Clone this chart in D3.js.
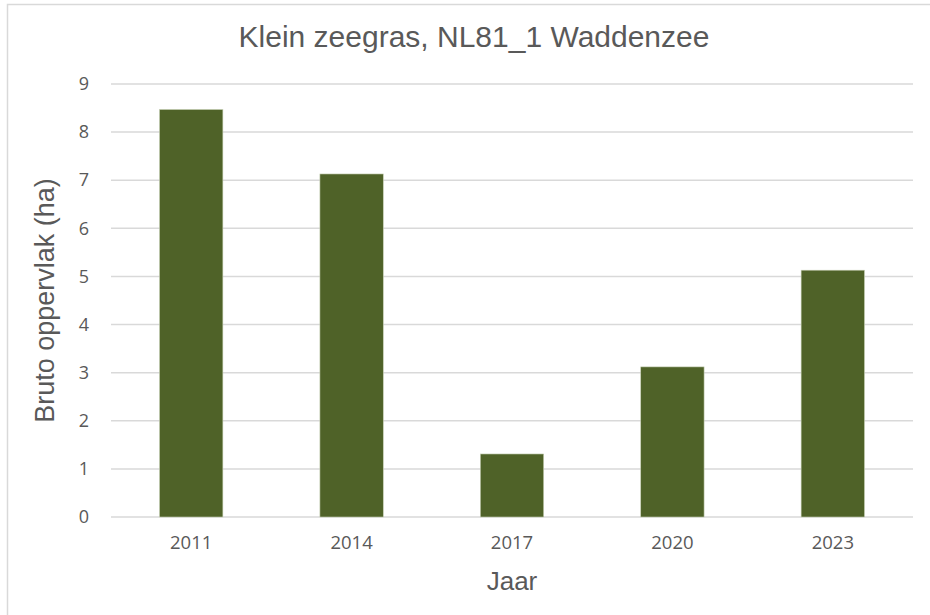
<!DOCTYPE html>
<html>
<head>
<meta charset="utf-8">
<script src="https://cdn.jsdelivr.net/npm/d3@7"></script>
<style>
  body { margin: 0; background: #fff; }
  svg text { fill: #595959; }
</style>
</head>
<body>
<div id="chart"></div>
<script>
var years = ["2011", "2014", "2017", "2020", "2023"];
var area = [8.47, 7.13, 1.31, 3.12, 5.13];
var yTicks = [0, 1, 2, 3, 4, 5, 6, 7, 8, 9];

var width = 930, height = 615;
var margin = {top: 84, right: 17, bottom: 98, left: 111};

var svg = d3.select("#chart").append("svg")
    .attr("width", width)
    .attr("height", height);

// chart border (runs off the right and bottom edge)
svg.append("rect")
    .attr("x", 7.5).attr("y", 4.5)
    .attr("width", 940).attr("height", 640)
    .attr("fill", "none")
    .attr("stroke", "#d9d9d9")
    .attr("stroke-width", 1.5);

var x = d3.scaleBand()
    .domain(years)
    .range([margin.left, width - margin.right]);

var y = d3.scaleLinear()
    .domain([0, 9])
    .range([height - margin.bottom, margin.top]);

// gridlines
svg.append("g")
    .selectAll("line")
    .data(yTicks)
    .enter().append("line")
    .attr("x1", margin.left)
    .attr("x2", width - margin.right)
    .attr("y1", function(d) { return y(d); })
    .attr("y2", function(d) { return y(d); })
    .attr("stroke", "#d9d9d9")
    .attr("stroke-width", 1.5);

// y axis labels
var yAxis = svg.append("g")
    .attr("transform", "translate(" + (margin.left - 22) + ",0)")
    .call(d3.axisLeft(y).tickValues(yTicks).tickSize(0).tickPadding(0));
yAxis.select(".domain").remove();
yAxis.selectAll("text")
    .attr("font-family", "'Open Sans', sans-serif")
    .attr("font-size", 18)
    .style("fill", "#595959");

// x axis labels
var xAxis = svg.append("g")
    .attr("transform", "translate(0," + (height - margin.bottom) + ")")
    .call(d3.axisBottom(x).tickSize(0).tickPadding(19));
xAxis.select(".domain").remove();
xAxis.selectAll("text")
    .attr("font-family", "'Open Sans', sans-serif")
    .attr("font-size", 18.5)
    .style("fill", "#595959");

// bars
var barW = x.bandwidth() * 0.395;
svg.append("g")
    .selectAll("rect")
    .data(area)
    .enter().append("rect")
    .attr("x", function(d, i) { return x(years[i]) + x.bandwidth() / 2 - barW / 2; })
    .attr("y", function(d) { return y(d); })
    .attr("width", barW)
    .attr("height", function(d) { return y(0) - y(d); })
    .attr("fill", "#4f6228")
    .attr("stroke", "#c6cfb4")
    .attr("stroke-width", 0.6);

// title
svg.append("text")
    .attr("x", 474).attr("y", 47)
    .attr("text-anchor", "middle")
    .attr("font-family", "'Liberation Sans', Arial, sans-serif")
    .attr("font-size", 30)
    .text("Klein zeegras, NL81_1 Waddenzee");

// axis titles
svg.append("text")
    .attr("x", (margin.left + width - margin.right) / 2)
    .attr("y", 590)
    .attr("text-anchor", "middle")
    .attr("font-family", "'Liberation Sans', Arial, sans-serif")
    .attr("font-size", 26)
    .text("Jaar");

svg.append("text")
    .attr("transform", "translate(54," + (y(0) + y(9)) / 2 + ") rotate(-90)")
    .attr("text-anchor", "middle")
    .attr("font-family", "'Liberation Sans', Arial, sans-serif")
    .attr("font-size", 27)
    .text("Bruto oppervlak (ha)");
</script>
</body>
</html>
